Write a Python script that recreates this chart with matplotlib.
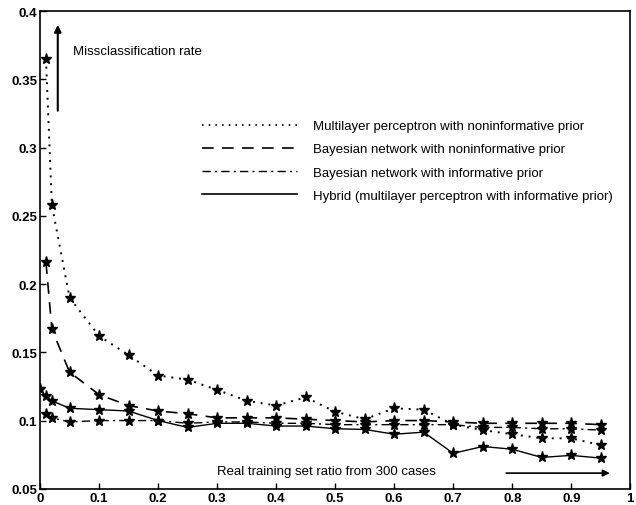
import matplotlib
matplotlib.use("Agg")
import matplotlib.pyplot as plt

plt.rcParams['font.family'] = ['Liberation Sans', 'DejaVu Sans']

x_hyb = [0, 0.01, 0.02, 0.05, 0.1, 0.15, 0.2, 0.25, 0.3, 0.35, 0.4, 0.45,
         0.5, 0.55, 0.6, 0.65, 0.7, 0.75, 0.8, 0.85, 0.9, 0.95]
x_oth = x_hyb[1:]

mlp_noninf = [0.365, 0.258, 0.190, 0.162, 0.148, 0.133, 0.130, 0.1225, 0.1145, 0.111,
              0.117, 0.1065, 0.101, 0.109, 0.108, 0.097, 0.093, 0.090, 0.087, 0.087, 0.082]
bn_noninf = [0.216, 0.167, 0.1355, 0.119, 0.111, 0.107, 0.105, 0.102, 0.102, 0.102,
             0.101, 0.100, 0.099, 0.100, 0.100, 0.099, 0.098, 0.098, 0.098, 0.098, 0.097]
bn_inf = [0.105, 0.102, 0.099, 0.100, 0.100, 0.100, 0.098, 0.099, 0.099, 0.098,
          0.098, 0.097, 0.097, 0.097, 0.097, 0.097, 0.095, 0.095, 0.094, 0.094, 0.093]
hybrid = [0.123, 0.118, 0.1145, 0.109, 0.108, 0.107, 0.100, 0.095, 0.098, 0.098, 0.096,
          0.096, 0.094, 0.0935, 0.090, 0.0915, 0.076, 0.081, 0.079, 0.073, 0.0745, 0.0725]

labels = ["Multilayer perceptron with noninformative prior",
          "Bayesian network with noninformative prior",
          "Bayesian network with informative prior",
          "Hybrid (multilayer perceptron with informative prior)"]

xticks = [0, 0.1, 0.2, 0.3, 0.4, 0.5, 0.6, 0.7, 0.8, 0.9, 1]
xticklabels = ["0", "0.1", "0.2", "0.3", "0.4", "0.5", "0.6", "0.7", "0.8", "0.9", "1"]
yticks = [0.05, 0.1, 0.15, 0.2, 0.25, 0.3, 0.35, 0.4]
yticklabels = ["0.05", "0.1", "0.15", "0.2", "0.25", "0.3", "0.35", "0.4"]

fig = plt.figure(figsize=(6.36, 5.06), dpi=100)
ax = fig.add_axes([0.063, 0.032, 0.928, 0.944])

mk = dict(marker='*', markersize=8, color='black', markeredgecolor='black')
ax.plot(x_oth, mlp_noninf, linestyle=(0, (1, 3)), linewidth=1.4, **mk)
ax.plot(x_oth, bn_noninf, linestyle=(0, (7, 5)), linewidth=1.2, **mk)
ax.plot(x_oth, bn_inf, linestyle=(0, (6, 3, 1.5, 3)), linewidth=1.0, **mk)
ax.plot(x_hyb, hybrid, linestyle='-', linewidth=1.0, **mk)

# legend handles without markers
h = [plt.Line2D([], [], color='black', linestyle=(0, (1, 3)), linewidth=1.2),
     plt.Line2D([], [], color='black', linestyle=(0, (7, 5)), linewidth=1.2),
     plt.Line2D([], [], color='black', linestyle=(0, (6, 3, 1.5, 3)), linewidth=1.0),
     plt.Line2D([], [], color='black', linestyle='-', linewidth=1.2)]
ax.legend(h, labels, loc='upper left', bbox_to_anchor=(0.275, 0.772), frameon=False,
          fontsize=9.5, handlelength=7.2, handletextpad=1.2, labelspacing=0.83,
          borderpad=0, borderaxespad=0)

ax.set_xlim(0, 1)
ax.set_ylim(0.05, 0.4)
ax.set_xticks(xticks)
ax.set_xticklabels(xticklabels)
ax.set_yticks(yticks)
ax.set_yticklabels(yticklabels)
ax.tick_params(direction='in', length=4, width=1, labelsize=9.5, pad=2)
for lab in ax.get_xticklabels() + ax.get_yticklabels():
    lab.set_fontweight('bold')
for s in ax.spines.values():
    s.set_linewidth(1.2)

ax.annotate("", xy=(0.03, 0.392), xytext=(0.03, 0.325),
            arrowprops=dict(arrowstyle='-|>', color='black', lw=1.5, mutation_scale=10))
ax.text(0.055, 0.371, "Missclassification rate", fontsize=9.5, va='center', ha='left')

ax.text(0.30, 0.063, "Real training set ratio from 300 cases", fontsize=9.5, va='center', ha='left')
ax.annotate("", xy=(0.97, 0.0615), xytext=(0.785, 0.0615),
            arrowprops=dict(arrowstyle='-|>', color='black', lw=1.2, mutation_scale=10))

fig.savefig("out.png", dpi=100)
